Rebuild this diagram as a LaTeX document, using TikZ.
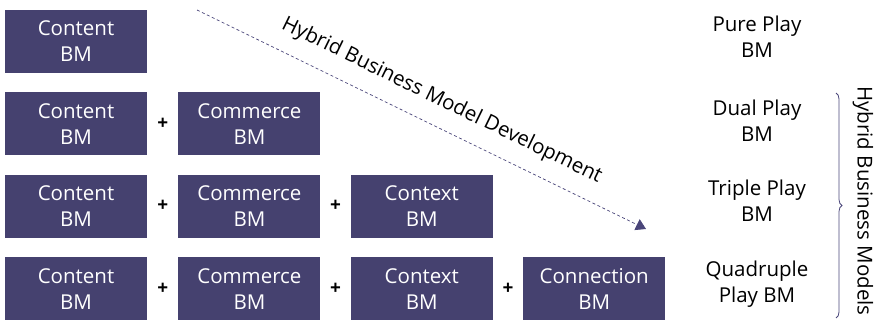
\documentclass[tikz,border=0pt]{standalone}
\usepackage{fontspec}
\setmainfont{Open Sans}
\usetikzlibrary{arrows.meta,positioning,calc,decorations.pathreplacing}

\definecolor{bmfill}{HTML}{45416F}
\definecolor{bmline}{HTML}{4A467A}

\begin{document}
\begin{tikzpicture}[
    font=\fontsize{20.5pt}{26pt}\selectfont,
    bm/.style={fill=bmfill, text=white, align=center, inner sep=0pt, minimum width=142pt, minimum height=63pt},
    plus/.style={font=\fontsize{19pt}{19pt}\selectfont\bfseries, inner sep=0pt},
    play/.style={align=center, inner sep=0pt},
    devarrow/.style={-{Triangle[length=10pt, width=12pt]}, bmline, line width=0.7pt, dash pattern=on 3pt off 2.5pt},
    brace/.style={decorate, decoration={brace, amplitude=6pt}, bmline, line width=0.8pt}
]
\useasboundingbox (0,0) rectangle (878pt,-320pt);

% pure play
\node[bm] (c1) at (76pt,-41.5pt) {Content\\BM};
% dual play
\node[bm, below=19pt of c1] (c2) {Content\\BM};
\node[bm, right=31pt of c2] (m2) {Commerce\\BM};
% triple play
\node[bm, below=19pt of c2] (c3) {Content\\BM};
\node[bm, right=31pt of c3] (m3) {Commerce\\BM};
\node[bm, right=30pt of m3] (x3) {Context\\BM};
% quadruple play
\node[bm, below=19pt of c3] (c4) {Content\\BM};
\node[bm, right=31pt of c4] (m4) {Commerce\\BM};
\node[bm, right=30pt of m4] (x4) {Context\\BM};
\node[bm, right=30pt of x4] (n4) {Connection\\BM};

\node[plus] (p2a) at ($(c2)!0.5!(m2)$) {+};
\node[plus] (p3a) at ($(c3)!0.5!(m3)$) {+};
\node[plus] (p3b) at ($(m3)!0.5!(x3)$) {+};
\node[plus] (p4a) at ($(c4)!0.5!(m4)$) {+};
\node[plus] (p4b) at ($(m4)!0.5!(x4)$) {+};
\node[plus] (p4c) at ($(x4)!0.5!(n4)$) {+};

% labels on the right
\node[play] (pure) at (757pt,-37pt) {Pure Play\\BM};
\node[play] (dual) at (757pt,-121pt) {Dual Play\\BM};
\node[play] (triple) at (757pt,-201pt) {Triple Play\\BM};
\node[play] (quad) at (757pt,-284pt) {Quadruple\\Play BM};

% development arrow
\coordinate (devstart) at (197pt,-10pt);
\coordinate (devend) at (646pt,-229pt);
\draw[devarrow] (devstart) -- (devend)
    node[pos=0.52, above=15pt, sloped, inner sep=0pt, text=black] (devlabel) {Hybrid Business Model Development};

% hybrid brace
\coordinate (bracetop) at (836pt,-93pt);
\coordinate (bracebot) at (836pt,-318pt);
\draw[brace] (bracetop) -- (bracebot);
\node[rotate=-90, inner sep=0pt] (hybrid) at (863pt,-201pt) {Hybrid Business Models};
\end{tikzpicture}
\end{document}
